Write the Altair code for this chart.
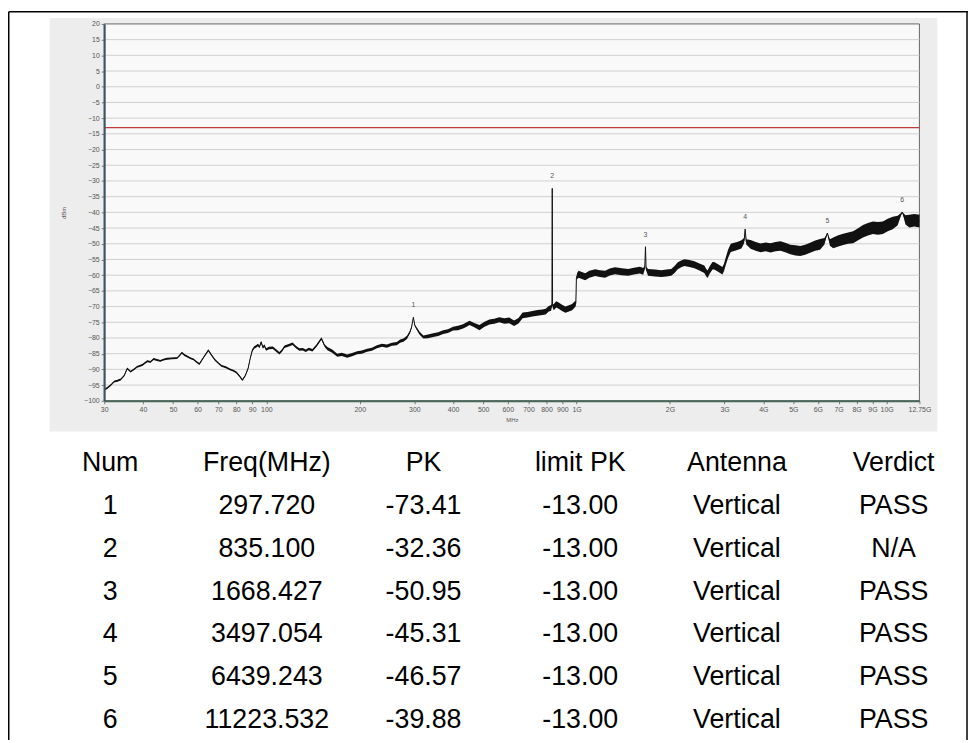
import altair as alt
import pandas as pd

# ---------------- spectrum trace ----------------
trace_freq = [
    30, 30.6, 31.5, 32.3, 33.1, 33.9, 34.8, 35.6, 36.5, 37.4,
    38.3, 39.8, 41.3, 42.3, 43.3, 44.4, 45.5, 46.6, 47.8, 49.6,
    51.5, 52.5, 53.4, 54.4, 55.4, 56.8, 58.2, 59.5, 60.8, 62.9,
    65.0, 66.6, 68.3, 70.0, 71.7, 74.0, 76.3, 78.2, 80.1, 82.0,
    83.7, 85.5, 87.3, 88.7, 90.1, 91.4, 92.8, 94.0, 95.0, 96.2,
    97.5, 98.5, 99.8, 102, 104.9, 107.5, 110.2, 112.3, 114.4, 117.5,
    121.5, 124.5, 127.7, 131, 134, 137, 140.8, 145, 150.5, 154,
    157.3, 163, 169.3, 175, 182.2, 189, 196.2, 203, 211.2, 219,
    227.2, 236, 244.6, 254, 263.3, 270, 276.7, 284, 290.4, 294,
    297.72, 301, 305.2, 312, 320.7, 332, 345.1, 358, 371.5, 385,
    400, 415, 430.5, 441, 451.9, 468, 486.4, 505, 523.6, 543,
    563.7, 585, 606.7, 629, 650, 670, 695, 721, 748, 776,
    795, 814, 828, 833, 835.1, 837, 845, 860, 876, 898,
    921, 945, 968, 985, 995, 999, 1005, 1016, 1040, 1067,
    1100, 1148, 1190, 1236, 1280, 1331, 1400, 1468, 1530, 1600,
    1640, 1660, 1668.427, 1676, 1700, 1790, 1877, 1950, 2020, 2070,
    2121, 2175, 2228, 2310, 2399, 2490, 2582, 2614, 2645, 2690,
    2744, 2779, 2860, 2954, 2990, 3029, 3080, 3143, 3220, 3299,
    3400, 3470, 3497.054, 3525, 3642, 3780, 3922, 4070, 4222, 4380,
    4542, 4710, 4891, 5080, 5263, 5460, 5665, 5880, 6097, 6300,
    6439.243, 6560, 6726, 6980, 7239, 7510, 7792, 8090, 8386, 8700,
    9026, 9370, 9716, 10080, 10457, 10850, 11223.532, 11500, 11828, 12280,
    12750,
]
trace_level = [
    -96.5, -96.0, -95.0, -93.9, -93.6, -93.2, -92.0, -89.7, -90.7, -90.0,
    -89.2, -88.6, -87.4, -87.6, -86.7, -87.0, -87.3, -86.9, -86.6, -86.5,
    -86.4, -85.6, -84.7, -85.4, -85.8, -86.4, -86.8, -87.6, -88.3, -86.0,
    -83.9, -85.5, -87.0, -88.0, -88.9, -89.3, -90.0, -90.4, -91.0, -92.2,
    -93.4, -92.0, -89.7, -86.5, -83.9, -83.0, -82.6, -82.2, -82.9, -81.3,
    -83.0, -82.4, -83.7, -83.2, -83.1, -84.0, -84.9, -84.0, -82.8, -82.4,
    -81.8, -82.9, -83.7, -83.6, -84.1, -83.5, -83.9, -82.5, -80.2, -82.4,
    -83.4, -84.2, -85.5, -85.2, -85.8, -85.3, -84.7, -84.5, -83.9, -83.6,
    -82.8, -82.3, -82.6, -82.0, -81.8, -81.0, -80.7, -79.8, -78.1, -76.5,
    -73.41, -76.0, -77.0, -78.5, -79.7, -79.5, -79.1, -78.8, -78.1, -77.8,
    -77.0, -76.8, -76.3, -75.8, -75.2, -75.9, -76.7, -75.6, -74.9, -74.7,
    -74.2, -74.6, -74.4, -75.3, -74.5, -72.8, -72.6, -72.3, -72.0, -71.8,
    -71.6, -70.7, -70.4, -69.5, -32.36, -69.8, -70.2, -69.3, -69.7, -70.4,
    -71.0, -70.6, -70.2, -69.4, -69.0, -61.0, -60.2, -59.7, -60.1, -60.5,
    -59.7, -59.2, -59.5, -59.7, -59.0, -58.6, -58.9, -59.1, -58.7, -58.4,
    -58.8, -57.5, -50.95, -57.8, -59.1, -59.3, -59.5, -59.3, -59.1, -58.2,
    -57.0, -56.4, -56.0, -56.3, -56.7, -57.4, -58.1, -59.1, -59.7, -58.3,
    -57.0, -57.0, -57.7, -58.6, -57.5, -55.5, -53.2, -51.3, -51.0, -50.7,
    -50.2, -49.0, -45.31, -49.4, -50.2, -50.8, -51.3, -51.0, -51.3, -50.9,
    -50.7, -51.2, -51.8, -52.1, -52.3, -51.9, -51.3, -50.6, -50.2, -49.2,
    -46.57, -49.6, -49.7, -49.1, -48.6, -48.2, -47.9, -47.0, -46.0, -45.4,
    -44.9, -45.1, -44.9, -44.0, -43.4, -42.6, -39.88, -42.4, -42.8, -42.5,
    -42.8,
]
# half thickness of the noisy trace band (dB)
trace_spread = [
    0.3, 0.3, 0.3, 0.3, 0.3, 0.3, 0.3, 0.3, 0.3, 0.3,
    0.3, 0.3, 0.3, 0.3, 0.3, 0.3, 0.3, 0.3, 0.3, 0.3,
    0.3, 0.3, 0.3, 0.3, 0.3, 0.3, 0.3, 0.3, 0.3, 0.3,
    0.3, 0.3, 0.3, 0.3, 0.3, 0.3, 0.3, 0.3, 0.3, 0.3,
    0.3, 0.3, 0.3, 0.3, 0.4, 0.4, 0.4, 0.4, 0.4, 0.4,
    0.4, 0.4, 0.4, 0.4, 0.4, 0.4, 0.4, 0.4, 0.4, 0.4,
    0.4, 0.4, 0.4, 0.4, 0.4, 0.4, 0.4, 0.4, 0.4, 0.4,
    0.5, 0.5, 0.5, 0.5, 0.5, 0.5, 0.5, 0.5, 0.5, 0.5,
    0.5, 0.5, 0.5, 0.5, 0.5, 0.5, 0.5, 0.5, 0.4, 0.3,
    0.0, 0.3, 0.4, 0.5, 0.5, 0.6, 0.6, 0.6, 0.6, 0.6,
    0.6, 0.7, 0.7, 0.7, 0.7, 0.7, 0.8, 0.8, 0.8, 0.8,
    0.8, 0.9, 0.9, 0.9, 0.9, 0.9, 0.9, 0.9, 0.9, 0.9,
    0.9, 0.9, 0.9, 0.5, 0.0, 0.5, 1.0, 1.0, 1.0, 1.0,
    1.0, 1.0, 1.0, 1.0, 0.8, 0.5, 1.0, 1.1, 1.1, 1.1,
    1.1, 1.1, 1.1, 1.1, 1.1, 1.1, 1.1, 1.1, 1.1, 1.1,
    1.1, 0.6, 0.0, 0.6, 1.1, 1.1, 1.1, 1.1, 1.1, 1.1,
    1.1, 1.1, 1.1, 1.1, 1.1, 1.1, 1.2, 1.2, 1.2, 1.2,
    1.2, 1.2, 1.2, 1.2, 1.2, 1.2, 1.3, 1.3, 1.3, 1.3,
    1.3, 0.8, 0.0, 0.8, 1.4, 1.4, 1.4, 1.4, 1.5, 1.5,
    1.5, 1.5, 1.5, 1.6, 1.6, 1.6, 1.6, 1.6, 1.7, 1.0,
    0.0, 1.0, 1.7, 1.8, 1.8, 1.8, 1.9, 1.9, 2.0, 2.0,
    2.0, 2.0, 2.0, 2.0, 2.0, 1.5, 0.0, 1.5, 2.0, 2.0,
    2.0,
]
if not (len(trace_freq) == len(trace_level) == len(trace_spread)):
    raise ValueError(f"lengths {len(trace_freq)} {len(trace_level)} {len(trace_spread)}")

# ---------------- markers / limit ----------------
marker_num = ["1", "2", "3", "4", "5", "6"]
marker_freq = [297.720, 835.100, 1668.427, 3497.054, 6439.243, 11223.532]
marker_pk = [-73.41, -32.36, -50.95, -45.31, -46.57, -39.88]
limit_pk = -13.00

# ---------------- axis ticks ----------------
x_ticks = [30, 40, 50, 60, 70, 80, 90, 100, 200, 300, 400, 500, 600, 700, 800, 900,
           1000, 2000, 3000, 4000, 5000, 6000, 7000, 8000, 9000, 10000, 12750]
y_ticks = [20, 15, 10, 5, 0, -5, -10, -15, -20, -25, -30, -35, -40, -45, -50, -55,
           -60, -65, -70, -75, -80, -85, -90, -95, -100]
grid_levels = [15, 10, 5, 0, -5, -10, -15, -20, -25, -30, -35, -40, -45, -50, -55,
               -60, -65, -70, -75, -80, -85, -90, -95]

# ---------------- table ----------------
table_headers = ["Num", "Freq(MHz)", "PK", "limit PK", "Antenna", "Verdict"]
table_num = ["1", "2", "3", "4", "5", "6"]
table_freq = ["297.720", "835.100", "1668.427", "3497.054", "6439.243", "11223.532"]
table_pk = ["-73.41", "-32.36", "-50.95", "-45.31", "-46.57", "-39.88"]
table_limit = ["-13.00", "-13.00", "-13.00", "-13.00", "-13.00", "-13.00"]
table_antenna = ["Vertical", "Vertical", "Vertical", "Vertical", "Vertical", "Vertical"]
table_verdict = ["PASS", "N/A", "PASS", "PASS", "PASS", "PASS"]

# ---------------- build data frames ----------------
trace_df = pd.DataFrame({"freq": trace_freq, "level": trace_level, "spread": trace_spread})
marker_df = pd.DataFrame({"num": marker_num, "freq": marker_freq, "pk": marker_pk})
grid_df = pd.DataFrame({"g": grid_levels})
one = pd.DataFrame({"a": [0]})

row_keys = ["hdr"] + table_num
columns = [table_num, table_freq, table_pk, table_limit, table_antenna, table_verdict]
recs = []
for h, col in zip(table_headers, columns):
    recs.append({"col": h, "row": "hdr", "txt": h})
    for rk, v in zip(table_num, col):
        recs.append({"col": h, "row": rk, "txt": v})
table_df = pd.DataFrame(recs)

# ---------------- layout / style ----------------
W, H = 822, 380
FONT = "Liberation Sans"

xscale = alt.Scale(type="log", domain=[30, 12750], nice=False)
yscale = alt.Scale(domain=[-100, 20], nice=False, zero=False)

x_axis = alt.Axis(
    values=x_ticks,
    labelExpr="datum.value >= 1000 ? (datum.value / 1000) + 'G' : '' + datum.value",
    labelFontSize=7, labelColor="#555555", labelFont=FONT, labelOverlap=False,
    labelFlush=False, labelPadding=2,
    tickColor="#777777", tickSize=3,
    domainColor="#4a6658", domainWidth=2,
    grid=False, zindex=1,
    title="MHz", titleFontSize=6, titleFontWeight="normal", titleColor="#555555",
    titleFont=FONT, titlePadding=4,
)
y_axis = alt.Axis(
    values=y_ticks,
    labelFontSize=7, labelColor="#555555", labelFont=FONT, labelOverlap=False,
    labelFlush=False, labelPadding=2,
    tickColor="#777777", tickSize=3,
    domainColor="#3a5566", domainWidth=2,
    grid=False, zindex=1,
    title="dBm", titleFontSize=6, titleFontWeight="normal", titleColor="#555555",
    titleFont=FONT, titlePadding=17,
)

X = lambda f: alt.X(f, scale=xscale, axis=x_axis)
Y = lambda f: alt.Y(f, scale=yscale, axis=y_axis)

panel = alt.Chart(one).mark_rect(color="#ededed").encode(
    x=alt.value(-55), x2=alt.value(840), y=alt.value(-6), y2=alt.value(411))
plot_bg = alt.Chart(one).mark_rect(fill="#f9f9f9", stroke="#666666", strokeWidth=1).encode(
    x=alt.value(0), x2=alt.value(W), y=alt.value(0), y2=alt.value(H))
grid = alt.Chart(grid_df).mark_rule(color="#cfcfcf", strokeWidth=1).encode(y=Y("g:Q"))
limit = alt.Chart(one).mark_rule(color="#c23a3a", strokeWidth=1.2).encode(
    y=alt.Y(datum=limit_pk, scale=yscale, axis=y_axis))
band = alt.Chart(trace_df).transform_calculate(
    lo="datum.level - datum.spread", hi="datum.level + datum.spread"
).mark_area(color="#111111", opacity=1, interpolate="linear").encode(
    x=X("freq:Q"), y=Y("lo:Q"), y2="hi:Q")
line = alt.Chart(trace_df).mark_line(color="#111111", strokeWidth=1).encode(
    x=X("freq:Q"), y=Y("level:Q"))
stems = alt.Chart(marker_df).mark_rule(color="#9a9a9a", strokeWidth=0.6).encode(
    x=X("freq:Q"), y=Y("pk:Q"), y2=alt.value(0)).transform_filter("false")
labels = alt.Chart(marker_df).mark_text(fontSize=7, color="#555555", font=FONT, dy=-12).encode(
    x=X("freq:Q"), y=Y("pk:Q"), text="num:N")

frame_left = alt.Chart(one).mark_rule(color="black", strokeWidth=1.5).encode(
    x=alt.value(-96.25), y=alt.value(-12.25), y2=alt.value(722))
frame_top = alt.Chart(one).mark_rule(color="black", strokeWidth=1.5).encode(
    x=alt.value(-96.25), x2=alt.value(871), y=alt.value(-12.25))
frame_right = alt.Chart(one).mark_rule(color="black", strokeWidth=1.5).encode(
    x=alt.value(870), y=alt.value(-12.25), y2=alt.value(722))

spectrum = alt.layer(panel, plot_bg, grid, limit, band, line, labels,
                     frame_left, frame_top, frame_right)

table = alt.Chart(table_df).mark_text(
    font=FONT, fontSize=27, color="black", baseline="middle", align="center"
).encode(
    x=alt.X("col:N", scale=alt.Scale(domain=table_headers, range=[6, 796], padding=0), axis=None),
    y=alt.Y("row:N", scale=alt.Scale(domain=row_keys, range=[443, 702], padding=0), axis=None),
    text="txt:N",
)

chart = alt.layer(spectrum, table).resolve_scale(
    x="independent", y="independent"
).properties(
    width=W, height=H,
    padding={"left": 97, "top": 13, "right": 50, "bottom": 342},
    autosize=alt.AutoSizeParams(type="none"),
).configure(background="white").configure_view(stroke=None)

chart.save("out.html", embed_options={"renderer": "svg", "actions": False})
